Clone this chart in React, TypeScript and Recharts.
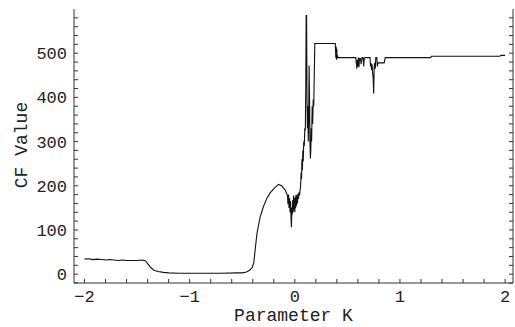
import { LineChart, Line, XAxis, YAxis, Label } from "recharts";

// parameter K sampled along the curve
const kValues = [
  -2.0, -1.96, -1.92, -1.88, -1.84, -1.8, -1.76, -1.72, -1.68, -1.64, -1.6, -1.55, -1.5, -1.45,
  -1.42, -1.4, -1.37, -1.34, -1.3, -1.25, -1.2, -1.1, -0.9, -0.7, -0.55, -0.5, -0.46, -0.43,
  -0.405, -0.39, -0.375, -0.36, -0.33, -0.3, -0.265, -0.235, -0.185, -0.155, -0.125, -0.09, -0.07,
  -0.065, -0.06, -0.055, -0.05, -0.045, -0.04, -0.035, -0.032, -0.028, -0.024, -0.02, -0.016,
  -0.012, -0.008, -0.004, 0.0, 0.004, 0.008, 0.012, 0.016, 0.02, 0.025, 0.03, 0.035, 0.04, 0.045,
  0.05, 0.055, 0.06, 0.064, 0.068, 0.072, 0.076, 0.08, 0.085, 0.09, 0.095, 0.1, 0.104, 0.108,
  0.112, 0.116, 0.12, 0.124, 0.128, 0.132, 0.136, 0.14, 0.144, 0.148, 0.152, 0.156, 0.16, 0.165,
  0.17, 0.175, 0.18, 0.185, 0.19, 0.385, 0.39, 0.393, 0.396, 0.399, 0.402, 0.406, 0.41, 0.58,
  0.585, 0.59, 0.595, 0.6, 0.605, 0.61, 0.615, 0.625, 0.63, 0.64, 0.65, 0.655, 0.66, 0.67, 0.715,
  0.72, 0.725, 0.73, 0.735, 0.74, 0.745, 0.75, 0.755, 0.76, 0.765, 0.77, 0.78, 0.785, 0.79, 0.8,
  0.85, 0.86, 1.29, 1.3, 1.95, 1.96, 2.0,
];

// CF value at each K
const cfValues = [
  34, 35, 33, 34, 33, 32, 33, 32, 31, 32, 31, 31, 31, 32,
  30, 24, 15, 9, 6, 4, 3, 2, 2, 2, 3, 3, 5, 9,
  15, 26, 60, 92, 129, 152, 172, 184, 197, 203, 200, 190, 178,
  158, 180, 150, 172, 140, 165, 120, 106, 150, 135, 168, 140,
  178, 145, 172, 140, 175, 150, 180, 155, 178, 160, 182, 170, 185, 178,
  190, 200, 230, 215, 260, 235, 280, 255, 300, 290, 330, 325, 420, 585,
  585, 400, 330, 380, 300, 350, 472, 400, 300, 262, 280, 330, 300, 380,
  340, 395, 380, 450, 522, 522, 490, 515, 485, 510, 488, 495, 490, 490,
  478, 465, 485, 470, 490, 468, 488, 488, 475, 490, 490, 470, 488, 490, 490,
  470, 478, 462, 475, 455, 445, 409, 470, 478, 465, 490, 490, 470, 478, 478,
  478, 490, 490, 493, 493, 495, 495,
];

const xTicks = [
  -2, -1.8, -1.6, -1.4, -1.2, -1, -0.8, -0.6, -0.4, -0.2, 0, 0.2, 0.4, 0.6, 0.8, 1, 1.2, 1.4, 1.6,
  1.8, 2,
];
const yTicks = [
  -20, 0, 20, 40, 60, 80, 100, 120, 140, 160, 180, 200, 220, 240, 260, 280, 300, 320, 340, 360,
  380, 400, 420, 440, 460, 480, 500, 520, 540, 560, 580,
];

const data = kValues.map((k, i) => ({ k, cf: cfValues[i] }));

const FONT = "'Liberation Mono', 'Courier New', monospace";
const AXIS = "#333";

const xLabel = (v: number) => (Number.isInteger(v) ? String(v).replace("-", "\u2212") : "");
const yLabel = (v: number) => (v >= 0 && v % 100 === 0 ? String(v) : "");
const blank = () => "";

export default function App() {
  return (
    <div style={{ position: "absolute", left: 0, top: 0, background: "#fff" }}>
      <LineChart
        width={515}
        height={327}
        data={data}
        margin={{ top: 9, right: 0, bottom: 0, left: 0 }}
      >
        <XAxis
          dataKey="k"
          type="number"
          domain={[-2.1, 2.075]}
          allowDataOverflow
          ticks={xTicks}
          interval={0}
          tickFormatter={xLabel}
          height={44}
          tickSize={-4}
          tickMargin={11}
          stroke={AXIS}
          tick={{ fontSize: 17, fontFamily: FONT, fill: "#222" }}
        >
          <Label
            value="Parameter K"
            position="insideBottom"
            offset={6}
            style={{ fontSize: 18, fontFamily: FONT, fill: "#222" }}
          />
        </XAxis>
        <XAxis
          xAxisId="top"
          orientation="top"
          type="number"
          domain={[-2.1, 2.075]}
          allowDataOverflow
          ticks={xTicks}
          interval={0}
          tickFormatter={blank}
          height={0}
          tickSize={-4}
          stroke={AXIS}
        />
        <YAxis
          type="number"
          domain={[-20, 600]}
          allowDataOverflow
          ticks={yTicks}
          interval={0}
          tickFormatter={yLabel}
          width={74}
          tickSize={-4}
          tickMargin={11}
          stroke={AXIS}
          tick={{ fontSize: 17, fontFamily: FONT, fill: "#222" }}
          label={{
            content: () => (
              <text
                x={22}
                y={145}
                transform="rotate(-90 22 145)"
                textAnchor="middle"
                dominantBaseline="central"
                style={{ fontSize: 18, fontFamily: FONT, fill: "#222" }}
              >
                CF Value
              </text>
            ),
          }}
        />
        <YAxis
          yAxisId="right"
          orientation="right"
          type="number"
          domain={[-20, 600]}
          allowDataOverflow
          ticks={yTicks}
          interval={0}
          tickFormatter={blank}
          width={2}
          tickSize={-4}
          stroke={AXIS}
        />
        <Line
          type="linear"
          dataKey="cf"
          stroke="#111"
          strokeWidth={1.1}
          dot={false}
          isAnimationActive={false}
        />
      </LineChart>
    </div>
  );
}
